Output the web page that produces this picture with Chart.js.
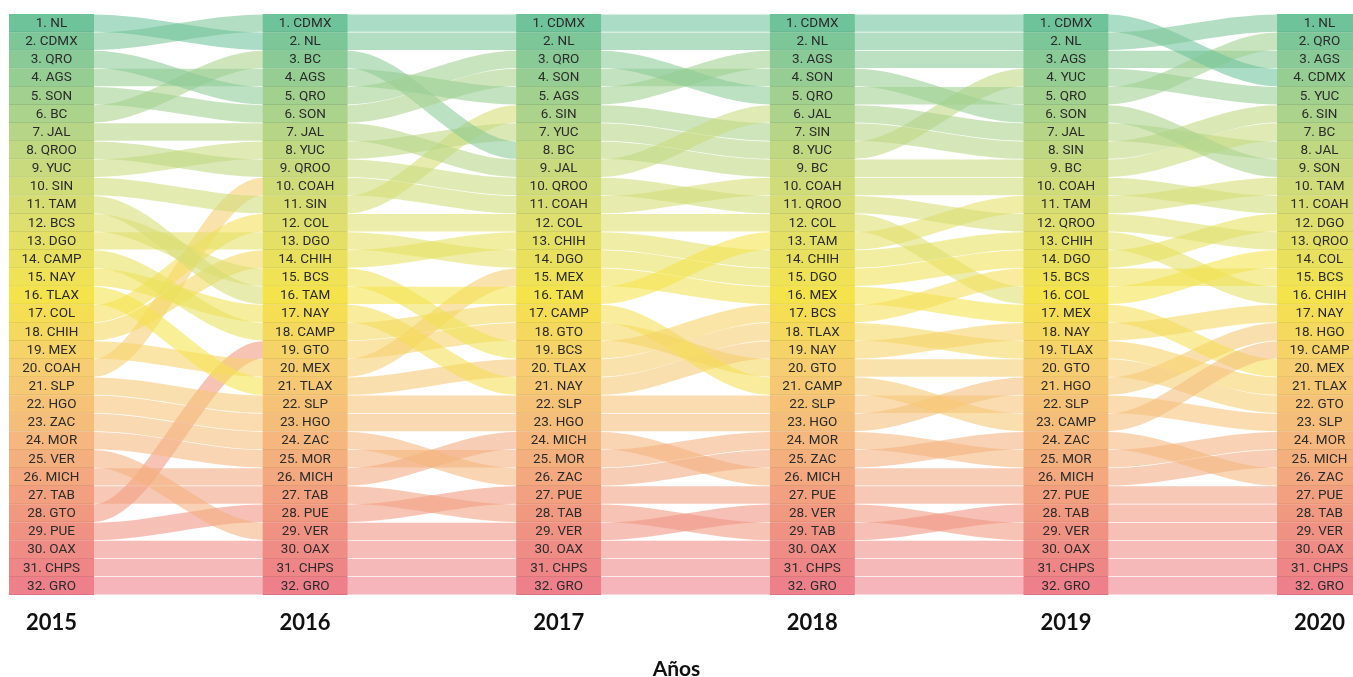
<!DOCTYPE html>
<html>
<head>
<meta charset="utf-8">
<script src="https://cdn.jsdelivr.net/npm/chart.js@4/dist/chart.umd.min.js"></script>
<style>
  html, body { margin: 0; padding: 0; background: #ffffff; }
  #wrap { width: 1353px; height: 677px; }
</style>
</head>
<body>
<div id="wrap"><canvas id="c" width="1353" height="677"></canvas></div>
<script>
// ---------------- DATA ----------------
const years = ['2015', '2016', '2017', '2018', '2019', '2020'];

const rank2015 = ['NL','CDMX','QRO','AGS','SON','BC','JAL','QROO','YUC','SIN','TAM','BCS','DGO','CAMP','NAY','TLAX','COL','CHIH','MEX','COAH','SLP','HGO','ZAC','MOR','VER','MICH','TAB','GTO','PUE','OAX','CHPS','GRO'];
const rank2016 = ['CDMX','NL','BC','AGS','QRO','SON','JAL','YUC','QROO','COAH','SIN','COL','DGO','CHIH','BCS','TAM','NAY','CAMP','GTO','MEX','TLAX','SLP','HGO','ZAC','MOR','MICH','TAB','PUE','VER','OAX','CHPS','GRO'];
const rank2017 = ['CDMX','NL','QRO','SON','AGS','SIN','YUC','BC','JAL','QROO','COAH','COL','CHIH','DGO','MEX','TAM','CAMP','GTO','BCS','TLAX','NAY','SLP','HGO','MICH','MOR','ZAC','PUE','TAB','VER','OAX','CHPS','GRO'];
const rank2018 = ['CDMX','NL','AGS','SON','QRO','JAL','SIN','YUC','BC','COAH','QROO','COL','TAM','CHIH','DGO','MEX','BCS','TLAX','NAY','GTO','CAMP','SLP','HGO','MOR','ZAC','MICH','PUE','VER','TAB','OAX','CHPS','GRO'];
const rank2019 = ['CDMX','NL','AGS','YUC','QRO','SON','JAL','SIN','BC','COAH','TAM','QROO','CHIH','DGO','BCS','COL','MEX','NAY','TLAX','GTO','HGO','SLP','CAMP','ZAC','MOR','MICH','PUE','TAB','VER','OAX','CHPS','GRO'];
const rank2020 = ['NL','QRO','AGS','CDMX','YUC','SIN','BC','JAL','SON','TAM','COAH','DGO','QROO','COL','BCS','CHIH','NAY','HGO','CAMP','MEX','TLAX','GTO','SLP','MOR','MICH','ZAC','PUE','TAB','VER','OAX','CHPS','GRO'];

const rankings = [rank2015, rank2016, rank2017, rank2018, rank2019, rank2020];
const states = rank2015.slice();

// ---------------- STYLE ----------------
const BOX_HALF = 0.166;          // half box width in x units
const X_MIN = -0.203, X_MAX = 5.132;
const COLOR_STOPS = [
  [1, [111,195,155]],
  [4, [150,205,147]],
  [8, [192,216,130]],
  [12, [222,223,110]],
  [16, [244,227,75]],
  [20, [246,205,112]],
  [24, [245,183,125]],
  [28, [241,152,128]],
  [32, [237,128,138]]
];
function rankRGB(r) {
  for (let i = 0; i < COLOR_STOPS.length - 1; i++) {
    const [r0, c0] = COLOR_STOPS[i], [r1, c1] = COLOR_STOPS[i + 1];
    if (r >= r0 && r <= r1) {
      const t = (r - r0) / (r1 - r0);
      return c0.map((v, k) => Math.round(v + (c1[k] - v) * t));
    }
  }
  return COLOR_STOPS[COLOR_STOPS.length - 1][1];
}
const rgb = c => `rgb(${c[0]},${c[1]},${c[2]})`;
const rgba = (c, a) => `rgba(${c[0]},${c[1]},${c[2]},${a})`;
const darker = (c, f) => c.map(v => Math.round(v * f));

// ---------------- BOXES ----------------
const boxData = [], boxColors = [], boxBorders = [], boxLabels = [];
rankings.forEach((list, i) => {
  list.forEach((st, k) => {
    const r = k + 1;
    boxData.push({ x: i, y: [r - 0.5, r + 0.5] });
    boxColors.push(rgb(rankRGB(r)));
    boxBorders.push(rgb(darker(rankRGB(r), 0.9)));
    boxLabels.push(r + '. ' + st);
  });
});

// ---------------- FLOWS ----------------
const flowDatasets = states.map(st => {
  const pts = [];
  rankings.forEach((list, i) => {
    const r = list.indexOf(st) + 1;
    pts.push({ x: i - BOX_HALF, y: r }, { x: i + BOX_HALF, y: r });
  });
  return {
    type: 'line',
    label: st,
    data: pts,
    order: 1,
    borderWidth: 17.4,
    borderColor: rgba(rankRGB(pts[0].y), 0.58),
    segment: { borderColor: ctx => rgba(rankRGB(ctx.p0.parsed.y), 0.58) },
    pointRadius: 0,
    pointHoverRadius: 0,
    fill: false,
    cubicInterpolationMode: 'monotone',
    borderCapStyle: 'butt',
    borderJoinStyle: 'round'
  };
});

const boxDataset = {
  type: 'bar',
  label: 'boxes',
  data: boxData,
  order: 0,
  backgroundColor: boxColors,
  borderColor: boxBorders,
  borderWidth: { top: 0, right: 0, bottom: 1, left: 0 },
  borderSkipped: false,
  barThickness: 85,
  grouped: false
};

const boxLabelPlugin = {
  id: 'boxLabels',
  afterDatasetsDraw(chart) {
    const idx = chart.data.datasets.indexOf(boxDataset);
    const meta = chart.getDatasetMeta(idx);
    const ctx = chart.ctx;
    ctx.save();
    ctx.font = '13.5px Roboto, "Noto Sans", sans-serif';
    ctx.fillStyle = '#2b2b2b';
    ctx.textAlign = 'center';
    ctx.textBaseline = 'middle';
    meta.data.forEach((el, j) => {
      const p = el.getProps(['x', 'y', 'base'], true);
      ctx.fillText(boxLabels[j], p.x, (p.y + p.base) / 2 + 0.5);
    });
    ctx.restore();
  }
};

new Chart(document.getElementById('c'), {
  type: 'line',
  data: { datasets: [boxDataset, ...flowDatasets] },
  options: {
    responsive: false,
    animation: false,
    devicePixelRatio: 1,
    layout: { padding: { top: 14, left: 0, right: 0, bottom: 0 } },
    plugins: { legend: { display: false }, tooltip: { enabled: false } },
    events: [],
    scales: {
      x: {
        type: 'linear',
        min: X_MIN,
        max: X_MAX,
        offset: false,
        grid: { display: false, drawTicks: false },
        border: { display: false },
        afterBuildTicks: axis => { axis.ticks = years.map((_, i) => ({ value: i })); },
        afterFit: axis => { axis.paddingLeft = 0; axis.paddingRight = 0; },
        ticks: {
          autoSkip: false,
          maxRotation: 0,
          padding: 15,
          color: '#111',
          font: { size: 22, weight: 'bold', family: 'Lato, "Noto Sans", sans-serif', lineHeight: 1.2 },
          callback: v => years[v]
        },
        title: {
          display: true,
          text: 'Años',
          color: '#111',
          font: { size: 21, weight: 'bold', family: 'Lato, "Noto Sans", sans-serif', lineHeight: 0.7 },
          padding: { top: 11, bottom: 0 }
        }
      },
      y: {
        type: 'linear',
        reverse: true,
        min: 0.5,
        max: 32.5,
        display: false
      }
    }
  },
  plugins: [boxLabelPlugin]
});
</script>
</body>
</html>
